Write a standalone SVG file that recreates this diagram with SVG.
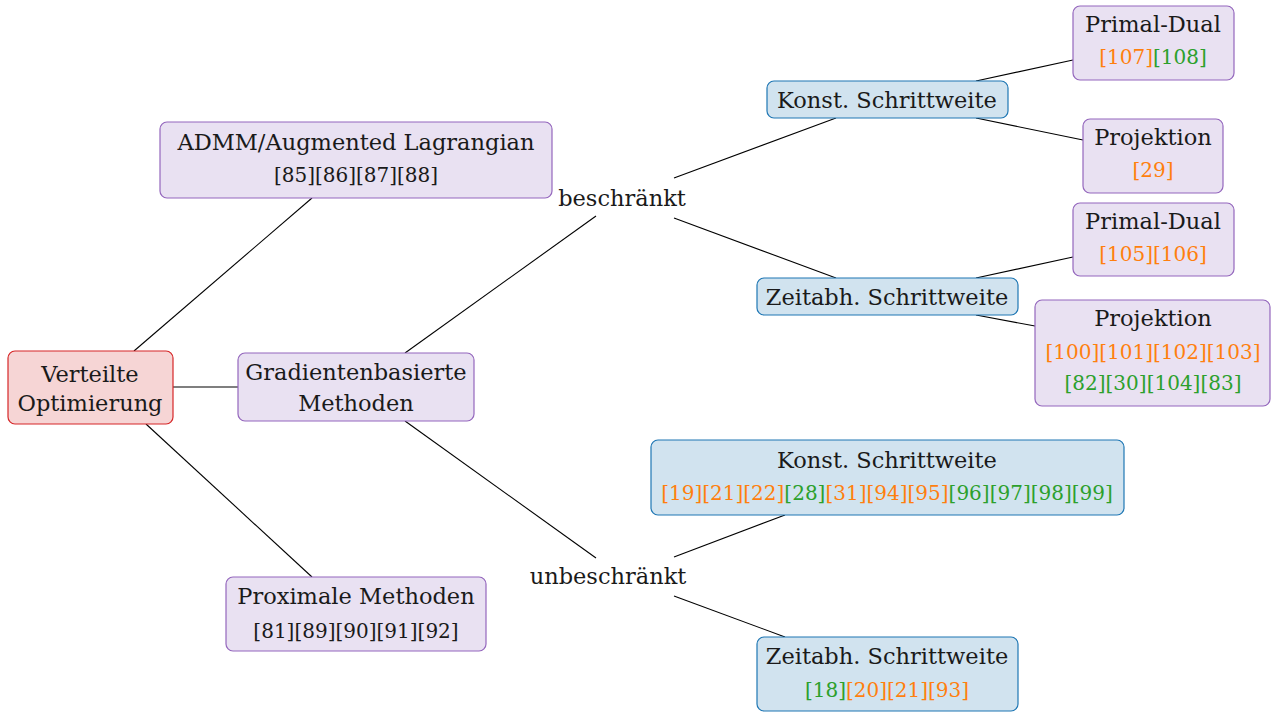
<svg xmlns="http://www.w3.org/2000/svg" width="1271" height="712" viewBox="0 0 1271 712">
  <style>
    text { font-family: 'DejaVu Serif', serif; font-size: 22.5px; fill: #1a1a1a; text-anchor: middle; }
    text.ref { font-size: 20px; }
    .red { fill: #f6d5d5; stroke: #d62728; stroke-width: 1.2; }
    .pur { fill: #e9e1f2; stroke: #9467bd; stroke-width: 1.2; }
    .blu { fill: #d1e3ef; stroke: #1f77b4; stroke-width: 1.2; }
    .o { fill: #ff7f0e; }
    .g { fill: #2ca02c; }
    #edges line { stroke: #000; stroke-width: 1.1; }
  </style>

  <g id="edges">
    <line x1="134" y1="351" x2="312" y2="198"/>
    <line x1="173" y1="387" x2="238" y2="387"/>
    <line x1="146" y1="424" x2="312" y2="577"/>
    <line x1="405" y1="353" x2="596" y2="216"/>
    <line x1="405" y1="421" x2="596" y2="558"/>
    <line x1="674" y1="178" x2="836" y2="118"/>
    <line x1="674" y1="218" x2="836" y2="278"/>
    <line x1="976" y1="81" x2="1073" y2="60"/>
    <line x1="976" y1="118" x2="1083" y2="140"/>
    <line x1="976" y1="278" x2="1073" y2="257"/>
    <line x1="976" y1="315" x2="1035" y2="326"/>
    <line x1="674" y1="557" x2="785" y2="515"/>
    <line x1="674" y1="596" x2="785" y2="637"/>
  </g>

  <g id="root">
    <rect class="red" x="8" y="351" width="165" height="73" rx="7"/>
    <text x="90" y="382">Verteilte</text>
    <text x="90" y="411">Optimierung</text>
  </g>

  <g id="admm">
    <rect class="pur" x="160" y="122" width="392" height="76" rx="7"/>
    <text x="356" y="150">ADMM/Augmented Lagrangian</text>
    <text x="356" y="182" class="ref">[85][86][87][88]</text>
  </g>

  <g id="gradient">
    <rect class="pur" x="238" y="353" width="236" height="68" rx="7"/>
    <text x="356" y="380">Gradientenbasierte</text>
    <text x="356" y="411">Methoden</text>
  </g>

  <g id="proximal">
    <rect class="pur" x="226" y="577" width="260" height="74" rx="7"/>
    <text x="356" y="604">Proximale Methoden</text>
    <text x="356" y="638" class="ref">[81][89][90][91][92]</text>
  </g>

  <g id="constrained">
    <text x="622" y="206">beschränkt</text>
  </g>

  <g id="unconstrained">
    <text x="608" y="584">unbeschränkt</text>
  </g>

  <g id="const-step-c">
    <rect class="blu" x="767" y="81" width="241" height="37" rx="7"/>
    <text x="887" y="108">Konst. Schrittweite</text>
  </g>

  <g id="var-step-c">
    <rect class="blu" x="757" y="278" width="261" height="37" rx="7"/>
    <text x="887" y="305">Zeitabh. Schrittweite</text>
  </g>

  <g id="pd-const">
    <rect class="pur" x="1073" y="6" width="161" height="74" rx="7"/>
    <text x="1153" y="32">Primal-Dual</text>
    <text x="1153" y="64" class="ref"><tspan class="o">[107]</tspan><tspan class="g">[108]</tspan></text>
  </g>

  <g id="proj-const">
    <rect class="pur" x="1083" y="119" width="140" height="74" rx="7"/>
    <text x="1153" y="145">Projektion</text>
    <text x="1153" y="177" class="ref o">[29]</text>
  </g>

  <g id="pd-var">
    <rect class="pur" x="1073" y="203" width="161" height="73" rx="7"/>
    <text x="1153" y="229">Primal-Dual</text>
    <text x="1153" y="261" class="ref o">[105][106]</text>
  </g>

  <g id="proj-var">
    <rect class="pur" x="1035" y="300" width="235" height="106" rx="7"/>
    <text x="1153" y="326">Projektion</text>
    <text x="1153" y="359" class="ref o">[100][101][102][103]</text>
    <text x="1153" y="390" class="ref g">[82][30][104][83]</text>
  </g>

  <g id="const-step-u">
    <rect class="blu" x="651" y="440" width="473" height="75" rx="7"/>
    <text x="887" y="468">Konst. Schrittweite</text>
    <text x="887" y="500" class="ref"><tspan class="o">[19][21][22]</tspan><tspan class="g">[28]</tspan><tspan class="o">[31][94][95]</tspan><tspan class="g">[96][97][98][99]</tspan></text>
  </g>

  <g id="var-step-u">
    <rect class="blu" x="757" y="637" width="261" height="74" rx="7"/>
    <text x="887" y="664">Zeitabh. Schrittweite</text>
    <text x="887" y="697" class="ref"><tspan class="g">[18]</tspan><tspan class="o">[20][21][93]</tspan></text>
  </g>
</svg>
